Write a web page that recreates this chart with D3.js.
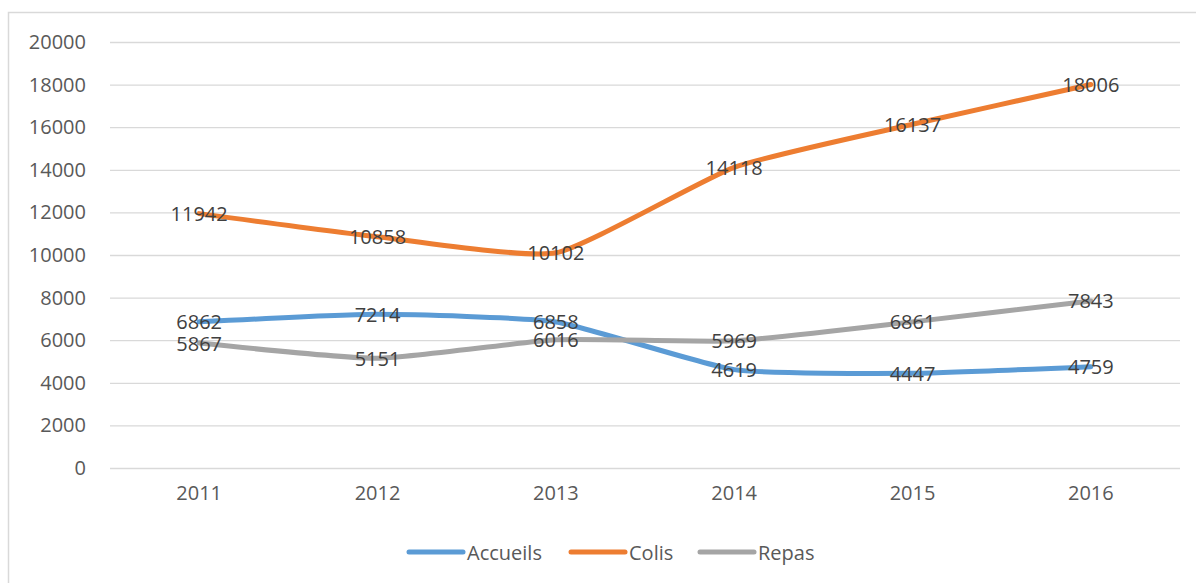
<!DOCTYPE html>
<html>
<head>
<meta charset="utf-8">
<script src="https://cdn.jsdelivr.net/npm/d3@7"></script>
<style>
  html, body { margin: 0; padding: 0; background: #fff; }
  svg { display: block; font-family: "Open Sans", "Liberation Sans", sans-serif; }
</style>
</head>
<body>
<svg id="chart"></svg>
<script>
const width = 1196;
const height = 583;

const years = ["2011", "2012", "2013", "2014", "2015", "2016"];
const accueils = [6862, 7214, 6858, 4619, 4447, 4759];
const colis = [11942, 10858, 10102, 14118, 16137, 18006];
const repas = [5867, 5151, 6016, 5969, 6861, 7843];
const yTicks = [0, 2000, 4000, 6000, 8000, 10000, 12000, 14000, 16000, 18000, 20000];

const series = [
  { name: "Accueils", values: accueils, color: "#5B9BD5" },
  { name: "Colis", values: colis, color: "#ED7D31" },
  { name: "Repas", values: repas, color: "#A5A5A5" }
];

const margin = { top: 42, right: 16, bottom: 115, left: 110 };

const svg = d3.select("#chart")
  .attr("width", width)
  .attr("height", height);

// chart frame
svg.append("rect")
  .attr("x", 8.5)
  .attr("y", 12.5)
  .attr("width", 1200)
  .attr("height", 600)
  .attr("fill", "none")
  .attr("stroke", "#D9D9D9")
  .attr("stroke-width", 1.5);

const x = d3.scaleBand()
  .domain(years)
  .range([margin.left, width - margin.right]);

const y = d3.scaleLinear()
  .domain([0, 20000])
  .range([height - margin.bottom, margin.top]);

// gridlines + y labels
const yAxis = svg.append("g")
  .attr("transform", `translate(${margin.left},0)`)
  .call(d3.axisLeft(y).tickValues(yTicks).tickSize(-(width - margin.left - margin.right)).tickPadding(24).tickFormat(d3.format("d")));

yAxis.select(".domain").remove();
yAxis.selectAll("line").attr("stroke", "#D9D9D9").attr("stroke-width", 1.3);
yAxis.selectAll("text")
  .attr("fill", "#595959")
  .attr("font-size", "20px")
  .attr("font-family", "'Open Sans', 'Liberation Sans', sans-serif");

// x labels
const xAxis = svg.append("g")
  .attr("transform", `translate(0,${height - margin.bottom})`)
  .call(d3.axisBottom(x).tickSize(0).tickPadding(18));

xAxis.select(".domain").remove();
xAxis.selectAll("text")
  .attr("fill", "#595959")
  .attr("font-size", "20px")
  .attr("font-family", "'Open Sans', 'Liberation Sans', sans-serif");

const cx = (d) => x(d) + x.bandwidth() / 2;

// light smoothing, like the original's smoothed lines
const line = d3.line()
  .x((d, i) => cx(years[i]))
  .y((d) => y(d))
  .curve(d3.curveCardinal.tension(0.5));

series.forEach((s) => {
  svg.append("path")
    .datum(s.values)
    .attr("fill", "none")
    .attr("stroke", s.color)
    .attr("stroke-width", 5)
    .attr("stroke-linejoin", "round")
    .attr("stroke-linecap", "round")
    .attr("d", line);
});

// data labels centred on points
series.forEach((s) => {
  svg.append("g")
    .selectAll("text")
    .data(s.values)
    .enter()
    .append("text")
    .attr("x", (d, i) => cx(years[i]))
    .attr("y", (d) => y(d))
    .attr("text-anchor", "middle")
    .attr("dominant-baseline", "central")
    .attr("fill", "#404040")
    .attr("font-size", "20px")
    .text((d) => d);
});

// legend
const legendX = [409, 571, 700];
const legend = svg.append("g")
  .selectAll("g")
  .data(series)
  .enter()
  .append("g")
  .attr("transform", (d, i) => `translate(${legendX[i]},552)`);

legend.append("line")
  .attr("x1", 0)
  .attr("x2", 54)
  .attr("stroke", (d) => d.color)
  .attr("stroke-width", 5)
  .attr("stroke-linecap", "round");

legend.append("text")
  .attr("x", 58)
  .attr("dominant-baseline", "central")
  .attr("fill", "#595959")
  .attr("font-size", "20px")
  .text((d) => d.name);
</script>
</body>
</html>
